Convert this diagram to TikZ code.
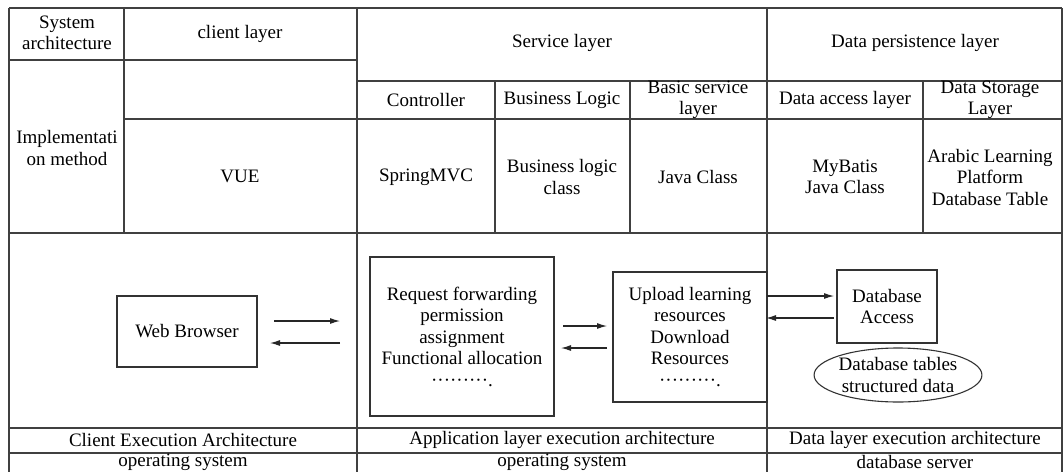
\documentclass[tikz,border=0pt]{standalone}
\usepackage{fontspec}
\setmainfont{Liberation Serif}
\usetikzlibrary{arrows.meta,shapes.geometric}
\begin{document}
\begin{tikzpicture}[x=1pt,y=-1pt,
  grid/.style={line width=1.3pt, draw=black!75},
  box/.style={draw=black!80, line width=1.1pt, inner sep=0pt, align=center,
    font=\fontsize{19}{21.5}\selectfont},
  lbl/.style={align=center, font=\fontsize{19}{21.5}\selectfont, inner sep=0pt},
  arr/.style={line width=1.1pt, draw=black!85, -{Latex[length=10pt,width=6pt]}},
]
\useasboundingbox (0,0) rectangle (1063,472);
% table frame
\draw[grid] (9,8) -- (1062,8);
\draw[grid] (9,8) -- (9,472);
\draw[grid] (1062,8) -- (1062,472);
\draw[grid] (9,60) -- (357,60);
\draw[grid] (357,81) -- (1062,81);
\draw[grid] (124,119) -- (1062,119);
\draw[grid] (9,233) -- (1062,233);
\draw[grid] (9,428) -- (1062,428);
\draw[grid] (9,453) -- (1062,453);
\draw[grid] (124,8) -- (124,233);
\draw[grid] (357,8) -- (357,472);
\draw[grid] (767,8) -- (767,472);
\draw[grid] (495,81) -- (495,233);
\draw[grid] (630,81) -- (630,233);
\draw[grid] (923,81) -- (923,233);
% header texts
\node[lbl] (sysarch) at (67,33) {System\\architecture};
\node[lbl] (client) at (240,34) {client layer};
\node[lbl] (service) at (562,43) {Service layer};
\node[lbl] (persist) at (915,43) {Data persistence layer};
\node[lbl] (impl) at (67,148) {Implementati\\on method};
\node[lbl] (vue) at (240,176) {VUE};
\node[lbl] (ctrl) at (426,100) {Controller};
\node[lbl] (blogic) at (562,100) {Business Logic};
\node[lbl] (basic) at (698,100) {Basic service\\layer};
\node[lbl] (daccess) at (845,100) {Data access layer};
\node[lbl] (dstore) at (990,100) {Data Storage\\Layer};
\node[lbl] (spring) at (426,177) {SpringMVC};
\node[lbl] (bclass) at (562,177) {Business logic\\class};
\node[lbl] (jclass) at (698,177) {Java Class};
\node[lbl] (mybatis) at (845,177) {MyBatis\\Java Class};
\node[lbl] (arabic) at (990,177) {Arabic Learning\\Platform\\Database Table};
% bottom rows
\node[lbl] (cea) at (183,440) {Client Execution Architecture};
\node[lbl] (alea) at (562,440) {Application layer execution architecture};
\node[lbl] (dlea) at (915,440) {Data layer execution architecture};
\node[lbl] (os1) at (183,462) {operating system};
\node[lbl] (os2) at (562,462) {operating system};
\node[lbl] (dbs) at (915,462) {database server};
% boxes
\node[box, minimum width=140pt, minimum height=71pt] (wb) at (187,331.5) {Web Browser};
\node[box, minimum width=184pt, minimum height=159pt] (req) at (462,336.5)
  {Request forwarding\\permission\\assignment\\Functional allocation\\·········.};
\node[box, minimum width=154pt, minimum height=130pt] (upl) at (690,337)
  {Upload learning\\resources\\Download\\Resources\\·········.};
\node[box, minimum width=100pt, minimum height=73pt] (dba) at (887,306.5) {Database\\Access};
\node[box, ellipse, minimum width=154pt, minimum height=54pt] (tbl) at (898,375)
  {Database tables\\structured data};
% arrows
\coordinate (a1s) at (274,321); \coordinate (a1e) at (340,321);
\coordinate (a2s) at (340,343); \coordinate (a2e) at (270,343);
\coordinate (a3s) at (563,326); \coordinate (a3e) at (607,326);
\coordinate (a4s) at (607,348); \coordinate (a4e) at (561,348);
\coordinate (a5s) at (767,296); \coordinate (a5e) at (834,296);
\coordinate (a6s) at (834,318); \coordinate (a6e) at (766,318);
\draw[arr] (a1s) -- (a1e);
\draw[arr] (a2s) -- (a2e);
\draw[arr] (a3s) -- (a3e);
\draw[arr] (a4s) -- (a4e);
\draw[arr] (a5s) -- (a5e);
\draw[arr] (a6s) -- (a6e);
\end{tikzpicture}
\end{document}
